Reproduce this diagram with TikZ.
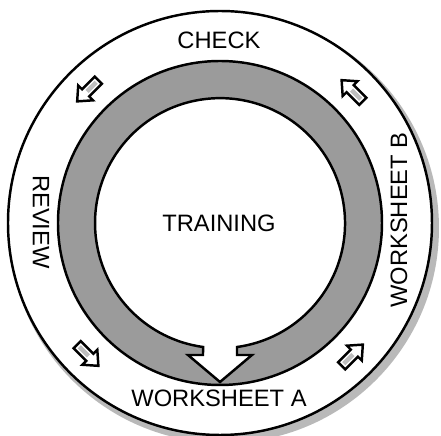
\documentclass[tikz,border=0pt]{standalone}
\usepackage{fontspec}
\setmainfont{Liberation Sans}
\definecolor{ringgray}{RGB}{155,155,155}
\definecolor{shadowgray}{RGB}{185,185,185}
\definecolor{bodygray}{RGB}{190,190,190}

\begin{document}
\begin{tikzpicture}[x=0.02cm, y=0.02cm, line width=1.4pt,
    ringtext/.style={font=\fontsize{13.5}{15}\selectfont, inner sep=0pt}]
  \useasboundingbox (-220,-213) rectangle (221,223);
  % outer circle with its shadow
  \fill[shadowgray] (4,-5) circle (215);
  \draw[fill=white] (0,0) circle (212);
  % training ring, open at the bottom
  \draw[fill=ringgray, even odd rule] (0,0) circle (162)
    (17,-124) arc[start angle=-82.2, end angle=262.2, radius=125]
    -- (-17,-132) -- (-32,-132) -- (0,-159) -- (32,-132) -- (17,-132) -- cycle;
  % small arrows between the steps
  \foreach \a in {45,135,225,315} {
    \begin{scope}[shift={(\a:187)}, rotate=\a+90]
      \draw[fill=white] (-15,-5) -- (3,-5) -- (3,-10.5) -- (15,0) -- (3,10.5)
        -- (3,5) -- (-15,5) -- cycle;
      \fill[bodygray] (-12,-2.2) rectangle (1,2.2);
    \end{scope}
  }
  \node[ringtext] (check) at (-1,183) {CHECK};
  \node[ringtext] (training) at (-1,0) {TRAINING};
  \node[ringtext] (wsa) at (-1,-175) {WORKSHEET A};
  \node[ringtext, rotate=-90] (review) at (-179,1) {REVIEW};
  \node[ringtext, rotate=90] (wsb) at (179,3) {WORKSHEET B};
\end{tikzpicture}
\end{document}
